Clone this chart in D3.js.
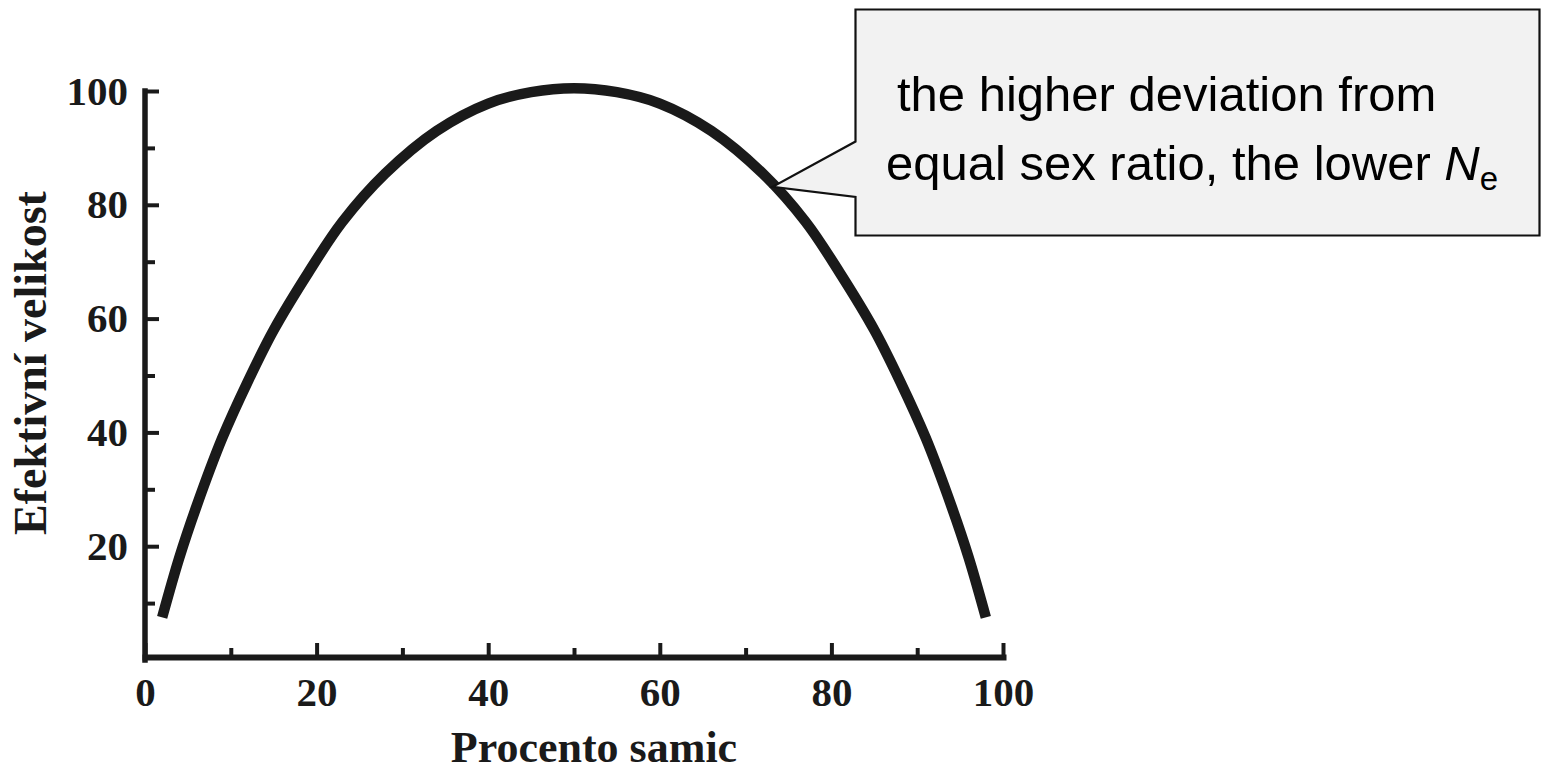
<!DOCTYPE html>
<html><head><meta charset="utf-8">
<script src="https://cdn.jsdelivr.net/npm/d3@7"></script>
<style>html,body{margin:0;padding:0;background:#fff;overflow:hidden} svg{display:block}</style>
</head><body>
<svg id="chart" width="1546" height="772"></svg>
<script>
// ---- data ----
const percentFemales = [2, 4, 6, 9, 12, 15, 19, 23, 28, 34, 40, 45, 50, 55, 60, 66, 72, 77, 81, 85, 88, 91, 94, 96, 98];
const effectiveSize  = [7.5, 18, 27, 39, 49, 58, 68, 77, 85.5, 93, 97.8, 99.8, 100.5, 99.8, 97.8, 93, 85.5, 77, 68, 58, 49, 39, 27, 18, 7.5];
const xMajorTicks = [0, 20, 40, 60, 80, 100];
const xMinorTicks = [10, 30, 50, 70, 90];
const yMajorTicks = [20, 40, 60, 80, 100];
const yMinorTicks = [10, 30, 50, 70, 90];
const xTitle = "Procento samic";
const yTitle = "Efektivní velikost";
const calloutLine1 = "the higher deviation from";
const calloutLine2 = "equal sex ratio, the lower ";
const calloutSymbol = "N";
const calloutSub = "e";
const calloutTarget = [73.5, 83];

// ---- drawing ----
const svg = d3.select("#chart");
const ink = "#1a1a1a";
const serif = "'Liberation Serif','DejaVu Serif',serif";
const sans = "'Liberation Sans',Arial,sans-serif";

const x = d3.scaleLinear().domain([0, 100]).range([145, 1003]);
const y = d3.scaleLinear().domain([0, 100]).range([660, 91]);
const axisY = 657;

function styleAxis(g, w) {
  g.select(".domain").attr("stroke", ink).attr("stroke-width", w).attr("stroke-linecap", "square");
  g.selectAll(".tick line").attr("stroke", ink).attr("stroke-width", 4);
  g.selectAll(".tick text").attr("font-family", serif).attr("font-weight", "bold")
    .attr("font-size", 41).attr("fill", ink);
}

// x axis
const gxMinor = svg.append("g").attr("transform", `translate(0,${axisY})`)
  .call(d3.axisBottom(x).tickValues(xMinorTicks).tickSizeInner(-9).tickSizeOuter(0).tickFormat(""));
gxMinor.select(".domain").remove();
gxMinor.selectAll(".tick line").attr("stroke", ink).attr("stroke-width", 4);

const gx = svg.append("g").attr("transform", `translate(0,${axisY})`)
  .call(d3.axisBottom(x).tickValues(xMajorTicks).tickSizeInner(-14).tickSizeOuter(0).tickPadding(20).tickFormat(d3.format("d")));
styleAxis(gx, 6);

// y axis
const gyMinor = svg.append("g").attr("transform", `translate(${x(0)},0)`)
  .call(d3.axisLeft(y).tickValues(yMinorTicks).tickSizeInner(-10).tickSizeOuter(0).tickFormat(""));
gyMinor.select(".domain").remove();
gyMinor.selectAll(".tick line").attr("stroke", ink).attr("stroke-width", 4);

const gy = svg.append("g").attr("transform", `translate(${x(0)},0)`)
  .call(d3.axisLeft(y).tickValues(yMajorTicks).tickSizeInner(-14).tickSizeOuter(0).tickPadding(17).tickFormat(d3.format("d")));
styleAxis(gy, 5.5);
gy.select(".domain").attr("d", `M0,${y(0)}V${y(100)}`);

// titles
svg.append("text").attr("x", 594).attr("y", 762).attr("text-anchor", "middle")
  .attr("font-family", serif).attr("font-weight", "bold").attr("font-size", 44).attr("fill", ink)
  .text(xTitle);
svg.append("text").attr("transform", "translate(46,363) rotate(-90)").attr("text-anchor", "middle")
  .attr("font-family", serif).attr("font-weight", "bold").attr("font-size", 46).attr("fill", ink)
  .text(yTitle);

// curve
const pts = percentFemales.map((p, i) => [p, effectiveSize[i]]);
svg.append("path").datum(pts)
  .attr("fill", "none").attr("stroke", ink).attr("stroke-width", 10.5).attr("stroke-linecap", "butt")
  .attr("d", d3.line().x(d => x(d[0])).y(d => y(d[1])).curve(d3.curveCatmullRom.alpha(0.5)));

// callout
const box = {left: 855.5, top: 9.5, right: 1539.5, bottom: 235.5, j1: 141.5, j2: 197};
const tipX = x(calloutTarget[0]) - 3, tipY = y(calloutTarget[1]) - 1;
svg.append("path")
  .attr("d", `M${box.left},${box.top}H${box.right}V${box.bottom}H${box.left}V${box.j2}L${tipX},${tipY}L${box.left},${box.j1}Z`)
  .attr("fill", "#f2f2f2").attr("stroke", "#111").attr("stroke-width", 2.2).attr("stroke-linejoin", "miter");

svg.append("text").attr("x", 897).attr("y", 111)
  .attr("font-family", sans).attr("font-size", 49).attr("fill", "#000").text(calloutLine1);
const t2 = svg.append("text").attr("x", 886).attr("y", 180)
  .attr("font-family", sans).attr("font-size", 49).attr("fill", "#000");
t2.append("tspan").text(calloutLine2);
t2.append("tspan").attr("font-style", "italic").text(calloutSymbol);
t2.append("tspan").attr("font-size", 33).attr("dy", 10).text(calloutSub);
</script>
</body></html>
